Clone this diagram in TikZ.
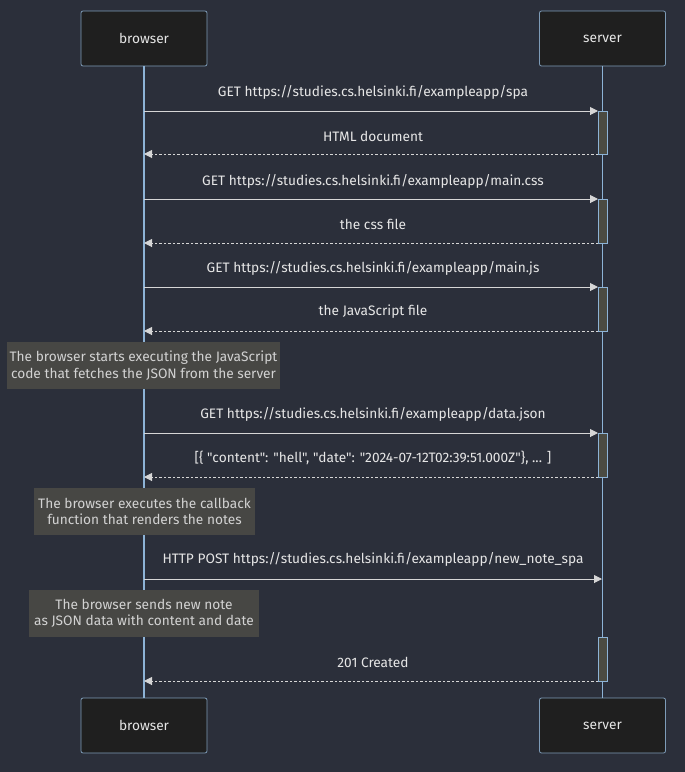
\documentclass[tikz,border=0pt]{standalone}
\usepackage{fontspec}
\setmainfont{Fira Sans}[Ligatures=TeXOff]
\usetikzlibrary{arrows.meta}
\definecolor{bg}{HTML}{2B2F3A}
\definecolor{actfill}{HTML}{1F1F1F}
\definecolor{actborder}{HTML}{7E9CB8}
\definecolor{life}{HTML}{8DB3D6}
\definecolor{msg}{HTML}{D6D6D6}
\definecolor{txt}{HTML}{E6E6E6}
\definecolor{notefill}{HTML}{474744}
\definecolor{notetxt}{HTML}{D2D2D2}
\definecolor{actvfill}{HTML}{4B4B42}
\tikzset{
  actor/.style={draw=actborder, fill=actfill, rounded corners=2pt, minimum width=126pt, minimum height=55pt, text=txt, font=\fontsize{13.7}{16}\selectfont, line width=0.8pt},
  lifeline/.style={draw=life, line width=1.2pt},
  req/.style={draw=msg, line width=1pt, -{Triangle[length=8pt,width=8pt]}},
  resp/.style={draw=msg, line width=1pt, dash pattern=on 2.5pt off 2pt, -{Triangle[length=8pt,width=8pt]}},
  lbl/.style={text=txt, font=\fontsize{13.7}{16}\selectfont, inner sep=0pt},
  note/.style={fill=notefill, text=notetxt, font=\fontsize{13.7}{16.5}\selectfont, align=center, inner sep=0pt},
  actv/.style={draw=life, fill=actvfill, line width=0.8pt},
}
\begin{document}
\begin{tikzpicture}[x=1pt,y=-1pt]
\fill[bg] (0,0) rectangle (685,772);
\useasboundingbox (0,0) rectangle (685,772);
% actors
\node[actor] (bt) at (144,38.5) {browser};
\node[actor] (st) at (602.5,38.5) {server};
\node[actor] (bb) at (144,725.5) {browser};
\node[actor] (sb) at (602.5,725.5) {server};
\draw[lifeline] (bt.south) -- (bb.north);
\draw[lifeline] (st.south) -- (sb.north);
% activations
\draw[actv] (598,111) rectangle (607,154);
\draw[actv] (598,199) rectangle (607,243);
\draw[actv] (598,287) rectangle (607,331);
\draw[actv] (598,433) rectangle (607,477);
\draw[actv] (598,637) rectangle (607,681);
% coordinates on lifelines
\foreach \n/\y in {1/111,2/154,3/199,4/243,5/287,6/331,7/433,8/477,9/579,10/681}{
  \coordinate (b\n) at (144,\y);
  \coordinate (s\n) at (598,\y);
}
\coordinate (s9) at (602,579);
\draw[req] (b1) -- (s1);
\node[lbl] (m1) at (373,92) {GET https://studies.cs.helsinki.fi/exampleapp/spa};
\draw[resp] (s2) -- (b2);
\node[lbl] (m2) at (373,136) {HTML document};
\draw[req] (b3) -- (s3);
\node[lbl] (m3) at (373,181) {GET https://studies.cs.helsinki.fi/exampleapp/main.css};
\draw[resp] (s4) -- (b4);
\node[lbl] (m4) at (373,224) {the css file};
\draw[req] (b5) -- (s5);
\node[lbl] (m5) at (373,268) {GET https://studies.cs.helsinki.fi/exampleapp/main.js};
\draw[resp] (s6) -- (b6);
\node[lbl] (m6) at (373,312) {the JavaScript file};
\node[note, minimum width=273pt, minimum height=47pt] (n1) at (143.5,365.5) {The browser starts executing the JavaScript\\code that fetches the JSON from the server};
\draw[req] (b7) -- (s7);
\node[lbl] (m7) at (373,414) {GET https://studies.cs.helsinki.fi/exampleapp/data.json};
\draw[resp] (s8) -- (b8);
\node[lbl] (m8) at (373,458) {[\{ "content": "hell", "date": "2024-07-12T02:39:51.000Z"\}, ... ]};
\node[note, minimum width=221pt, minimum height=47pt] (n2) at (144.5,511.5) {The browser executes the callback\\function that renders the notes};
\draw[req] (b9) -- (s9);
\node[lbl] (m9) at (373,559) {HTTP POST https://studies.cs.helsinki.fi/exampleapp/new\_note\_spa};
\node[note, minimum width=230pt, minimum height=47pt] (n3) at (144,613.5) {The browser sends new note\\as JSON data with content and date};
\draw[resp] (s10) -- (b10);
\node[lbl] (m10) at (373,662) {201 Created};
\end{tikzpicture}
\end{document}
